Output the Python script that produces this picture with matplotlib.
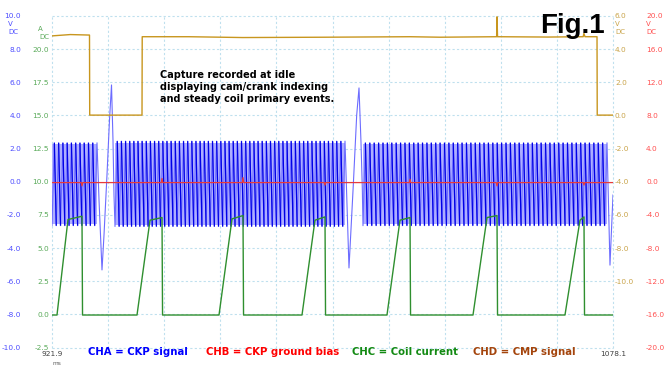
import numpy as np
import matplotlib.pyplot as plt
from matplotlib.collections import LineCollection

W, H = 670, 368

##### time window (ms)
t_start, t_end = 921.9, 1078.1

##### CHA = CKP signal : missing-tooth shapes (ms, V)
gap1_t = [934.99, 935.82, 936.38, 937.21, 937.91, 938.47, 938.88, 939.16]
gap1_v = [-1.10, -5.32, -3.21, 0.41, 3.73, 5.84, 2.52, -0.80]
gap2_t = [1004.04, 1004.59, 1005.79, 1006.74, 1007.38, 1007.93, 1008.30]
gap2_v = [-1.40, -5.20, -0.20, 4.03, 5.66, 2.40, -0.38]
gap3_t = [1077.26, 1077.96, 1078.1]
gap3_v = [-5.03, -1.52, -0.80]

##### tooth runs between the gaps
teeth_start = [921.9, 939.44, 1008.49]
teeth_end = [934.43, 1003.48, 1076.43]
teeth_count = [11, 56, 56]
teeth_peak = [2.35, 2.45, 2.35]
teeth_trough = [-2.65, -2.70, -2.65]

##### CHC = coil current (ms, A)
coil_on = [923.29, 945.57, 968.40, 991.51, 1015.17, 1039.12, 1064.73]
coil_knee = [926.35, 949.19, 972.02, 995.12, 1018.79, 1043.02, 1068.91]
coil_off = [930.25, 952.53, 975.08, 997.91, 1021.58, 1045.80, 1070.02]
coil_knee_a = [7.15, 7.10, 7.20, 7.10, 7.10, 7.30, 7.10]
coil_off_a = [7.40, 7.30, 7.45, 7.35, 7.30, 7.45, 7.35]
coil_base_a = -0.05

##### CHB = CKP ground bias (V), small blips at the coil events
bias_level = -0.1
bias_blip = [-0.5, 0.4, 0.5, -0.4, 0.3, -0.5, -0.4]

##### CHD = CMP signal (ms, V)
cmp_t = [921.9, 927.0, 932.34, 932.40, 946.96, 947.02, 960.0, 975.0, 998.0,
         1021.6, 1030.0, 1045.70, 1045.80, 1045.95, 1060.0, 1069.8, 1070.0,
         1070.3, 1073.65, 1073.71, 1078.1]
cmp_v = [4.80, 4.88, 4.85, 0.02, 0.02, 4.75, 4.75, 4.70, 4.72,
         4.75, 4.72, 4.75, 5.95, 4.75, 4.73, 4.75, 4.95, 4.75, 4.75, 0.02, 0.02]

##### axis labels
blue_ticks = [10, 8, 6, 4, 2, 0, -2, -4, -6, -8, -10]
green_ticks = [20.0, 17.5, 15.0, 12.5, 10.0, 7.5, 5.0, 2.5, 0.0, -2.5]
gold_ticks = [6, 4, 2, 0, -2, -4, -6, -8, -10]
red_ticks = [20, 16, 12, 8, 4, 0, -4, -8, -12, -16, -20]

legend_txt = ["CHA = CKP signal", "CHB = CKP ground bias",
              "CHC = Coil current", "CHD = CMP signal"]
legend_col = ["#0000ff", "#ff0000", "#138a13", "#a4440c"]
legend_x = [88, 206, 352, 473]

note_lines = ["Capture recorded at idle",
              "displaying cam/crank indexing",
              "and steady coil primary events."]

c_blue_lbl = "#4d4dff"
c_green_lbl = "#5aaa5a"
c_gold_lbl = "#c9a44a"
c_red_lbl = "#ff5050"
c_grid = "#bfe0ee"


def tooth_run(t0, t1, n, hi, lo):
    per = (t1 - t0) / (n - 0.45)
    tt, vv, falls = [], [], []
    for k in range(n):
        a = t0 + k * per
        tt += [a, a + 0.55 * per]
        vv += [lo, hi]
        if k < n - 1:
            falls.append([(a + 0.55 * per, hi), (a + per, lo)])
    return tt, vv, falls


fig = plt.figure(figsize=(W / 100, H / 100), dpi=100)
L, R, T, B = 52, 613, 16, 347.5
ax = fig.add_axes([L / W, 1 - B / H, (R - L) / W, (B - T) / H])
ax.set_xlim(t_start, t_end)
ax.set_ylim(-10, 10)

axg = ax.twinx()
axg.set_ylim(-2.5, 22.5)
axr = ax.twinx()
axr.set_ylim(-20, 20)
axd = ax.twinx()
axd.set_ylim(-14, 6)

for a in (ax, axg, axr, axd):
    for s in a.spines.values():
        s.set_visible(False)
    a.tick_params(length=0)

##### grid
for x in np.linspace(t_start, t_end, 11):
    ax.axvline(x, color=c_grid, lw=0.8, ls=(0, (2, 2)), zorder=0, clip_on=False)
for y in blue_ticks:
    ax.axhline(y, color=c_grid, lw=0.8, ls=(0, (2, 2)), zorder=0, clip_on=False)

##### CHA
gaps_t = [gap1_t, gap2_t, gap3_t]
gaps_v = [gap1_v, gap2_v, gap3_v]
blue_t, blue_v, falls = [], [], []
for i in range(3):
    tt, vv, ff = tooth_run(teeth_start[i], teeth_end[i], teeth_count[i],
                           teeth_peak[i], teeth_trough[i])
    ax.fill_between([teeth_start[i], teeth_end[i]], teeth_trough[i] + 0.1,
                    teeth_peak[i] - 0.1, color="#aeaeff", lw=0, zorder=1.8)
    blue_t += tt + gaps_t[i]
    blue_v += vv + gaps_v[i]
    falls += ff
ax.plot(blue_t, blue_v, color="#6c6cff", lw=0.8, zorder=2)
ax.add_collection(LineCollection(falls, colors="#0000e6", lw=0.9, zorder=2))

##### CHC
gt, ga = [t_start], [coil_base_a]
for i in range(len(coil_on)):
    gt += [coil_on[i], coil_knee[i], coil_off[i], coil_off[i] + 0.15]
    ga += [coil_base_a, coil_knee_a[i], coil_off_a[i], coil_base_a]
gt.append(t_end)
ga.append(coil_base_a)
axg.plot(gt, ga, color="#2f8f2f", lw=1.0, zorder=3)

##### CHB
rt, rv = [t_start], [bias_level]
for i in range(len(coil_off)):
    rt += [coil_off[i] - 0.2, coil_off[i], coil_off[i] + 0.2]
    rv += [bias_level, bias_blip[i], bias_level]
rt.append(t_end)
rv.append(bias_level)
axr.plot(rt, rv, color="#e83a3a", lw=0.9, zorder=4)

##### CHD
axd.plot(cmp_t, cmp_v, color="#c8961e", lw=1.0, zorder=3)

##### y labels
fs = 5.3
ax.set_yticks(blue_ticks)
ax.set_yticklabels([f"{v:.1f}" for v in blue_ticks], color=c_blue_lbl, fontsize=fs)
ax.tick_params(axis="y", pad=22.3)

axg.yaxis.set_ticks_position("left")
axg.set_yticks(green_ticks)
axg.set_yticklabels([f"{v:.1f}" for v in green_ticks], color=c_green_lbl, fontsize=fs)
axg.tick_params(axis="y", pad=2.2)

axd.set_yticks(gold_ticks)
axd.set_yticklabels([f"{v:.1f}" for v in gold_ticks], color=c_gold_lbl, fontsize=fs)
axd.tick_params(axis="y", pad=1.4)

axr.set_yticks(red_ticks)
axr.set_yticklabels([f"{v:.1f}" for v in red_ticks], color=c_red_lbl, fontsize=fs)
axr.tick_params(axis="y", pad=23.8)

for a in (axg, axr, axd):
    a.set_xticks([])

ax.set_xticks([t_start, t_end])
ax.set_xticklabels(["921.9", "1078.1"], color="#404040", fontsize=fs)
ax.tick_params(axis="x", pad=2.5)


def fx(px):
    return px / W


def fy(py):
    return 1 - py / H


##### unit headers
fs_u = 5.0
fig.text(fx(8), fy(24), "V", color=c_blue_lbl, fontsize=fs_u, va="center")
fig.text(fx(8), fy(32.5), "DC", color=c_blue_lbl, fontsize=fs_u, va="center")
fig.text(fx(43), fy(29.3), "A", color=c_green_lbl, fontsize=fs_u, va="center", ha="right")
fig.text(fx(49), fy(37), "DC", color=c_green_lbl, fontsize=fs_u, va="center", ha="right")
fig.text(fx(615), fy(24), "V", color=c_gold_lbl, fontsize=fs_u, va="center")
fig.text(fx(615), fy(32.5), "DC", color=c_gold_lbl, fontsize=fs_u, va="center")
fig.text(fx(646), fy(24), "V", color=c_red_lbl, fontsize=fs_u, va="center")
fig.text(fx(646), fy(32.5), "DC", color=c_red_lbl, fontsize=fs_u, va="center")
fig.text(fx(57), fy(363.5), "ms", color="#606060", fontsize=4.2, va="center", ha="center")

##### title and note
fig.text(fx(540), fy(33), "Fig.1", fontsize=20, fontweight="bold",
         family="Liberation Sans", va="baseline", ha="left")
for i, line in enumerate(note_lines):
    fig.text(fx(160), fy(75 + 12 * i), line, fontsize=7, fontweight="bold",
             va="center", ha="left")

##### legend
for txt, col, x in zip(legend_txt, legend_col, legend_x):
    fig.text(fx(x), fy(352), txt, color=col, fontsize=7.3, fontweight="bold",
             va="center", ha="left")

fig.savefig("out.png", dpi=100)
